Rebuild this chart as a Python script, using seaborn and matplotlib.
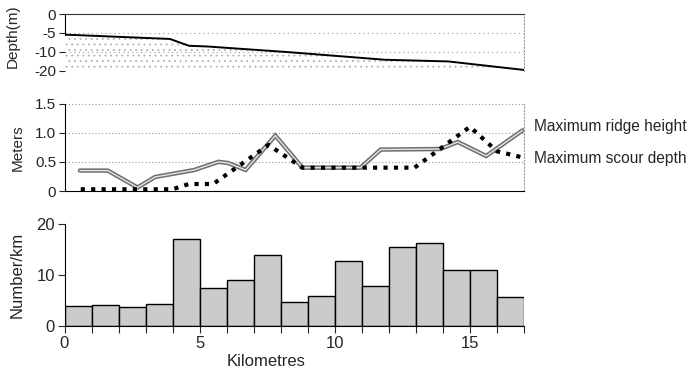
import numpy as np
import pandas as pd
import matplotlib
matplotlib.use("Agg")
import matplotlib.pyplot as plt
from matplotlib.ticker import FixedLocator, MultipleLocator
import seaborn as sns

# ---- data -------------------------------------------------------------
# seabed profile along the transect
depth_km = [0.0, 3.9, 4.6, 5.3, 8.3, 11.85, 14.2, 17.0]
depth_m = [-5.45, -6.6, -8.4, -8.6, -10.2, -14.2, -15.1, -19.6]

# maximum ridge height (m)
ridge_km = [0.57, 1.6, 2.7, 3.35, 4.8, 5.7, 6.05, 6.7, 7.8, 8.8, 10.95, 11.7, 13.9, 14.55, 15.6, 16.95]
ridge_m = [0.35, 0.35, 0.06, 0.24, 0.36, 0.50, 0.48, 0.36, 0.95, 0.40, 0.40, 0.71, 0.72, 0.84, 0.60, 1.04]

# maximum scour depth (m)
scour_km = [0.6, 4.0, 4.6, 5.5, 7.55, 8.8, 12.95, 15.0, 16.0, 17.0]
scour_m = [0.03, 0.03, 0.12, 0.12, 0.79, 0.40, 0.40, 1.10, 0.68, 0.57]

# number of features per kilometre bin
bin_km = np.arange(0.5, 17.0, 1.0)
per_km = [4.0, 4.1, 3.7, 4.4, 17.0, 7.5, 9.0, 14.0, 4.8, 5.8, 12.8, 7.9, 15.4, 16.3, 11.0, 11.0, 5.7]

depth_ticks = [0, -5, -10, -20]

# ---- style ------------------------------------------------------------
sns.set_style("white")
plt.rcParams["font.family"] = ["Liberation Sans", "DejaVu Sans"]
plt.rcParams["axes.unicode_minus"] = False
plt.rcParams["hatch.linewidth"] = 0.6

fig = plt.figure(figsize=(6.97, 3.74), dpi=100)
W, H = 697.0, 374.0
x0, x1 = 64.5, 524.0


def axes_px(top, bottom):
    return fig.add_axes([x0 / W, 1 - bottom / H, (x1 - x0) / W, (bottom - top) / H])


ax_d = axes_px(14.0, 70.7)
ax_m = axes_px(103.5, 191.0)
ax_n = axes_px(224.0, 326.0)

tick_fs = 11
label_fs = 11

# ---- depth panel --------------------------------------------------------
# depth axis: 0, -5, -10 and -20 m spaced evenly
_pos = np.array([-3.0, -2.0, -1.0, 0.0])
_dep = np.array([-20.0, -10.0, -5.0, 0.0])


def fwd(d):
    return np.interp(d, _dep, _pos)


def inv(p):
    return np.interp(p, _pos, _dep)


ax_d.set_yscale("function", functions=(fwd, inv))
prof = pd.DataFrame({"km": depth_km, "depth": depth_m})
ax_d.fill_between(prof["km"], prof["depth"], -20, facecolor="none",
                  edgecolor="#b0b0b0", linewidth=0, hatch="...")
sns.lineplot(data=prof, x="km", y="depth", color="black", linewidth=1.4,
             estimator=None, ax=ax_d)
ax_d.set_xlim(0, 17)
ax_d.set_ylim(-20, 0)
ax_d.yaxis.set_major_locator(FixedLocator(depth_ticks))
ax_d.set_yticklabels([str(t) for t in depth_ticks])
for t in (-5, -10):
    ax_d.axhline(t, color="#9a9a9a", linestyle=(0, (1, 3)), linewidth=0.8, zorder=0)
ax_d.set_xticks([])
ax_d.set_xlabel("")
ax_d.set_ylabel("Depth(m)", fontsize=label_fs)
ax_d.yaxis.set_label_coords(-0.097, 0.6)
ax_d.spines["bottom"].set_visible(False)
ax_d.spines["top"].set_color("#333333")
ax_d.spines["right"].set_linestyle((0, (1, 2)))
ax_d.spines["right"].set_color("#999999")
ax_d.spines["left"].set_color("black")
ax_d.spines["left"].set_bounds(depth_m[0], 0)
ax_d.tick_params(axis="y", direction="out", length=4, width=0.8, labelsize=tick_fs, pad=2, left=True)

# ---- ridge / scour panel ---------------------------------------------------
ridge = pd.DataFrame({"km": ridge_km, "m": ridge_m})
scour = pd.DataFrame({"km": scour_km, "m": scour_m})
for g in (0.5, 1.0, 1.5):
    ax_m.axhline(g, color="#9a9a9a", linestyle=(0, (1, 2)), linewidth=0.8, zorder=0)
sns.lineplot(data=ridge, x="km", y="m", color="#6f6f6f", linewidth=3.2,
             estimator=None, ax=ax_m, solid_joinstyle="miter")
sns.lineplot(data=ridge, x="km", y="m", color="#e4e4e4", linewidth=1.0,
             estimator=None, ax=ax_m)
sns.lineplot(data=scour, x="km", y="m", color="black", linewidth=3.0,
             linestyle=(0, (1, 1.5)), dash_capstyle="butt",
             estimator=None, ax=ax_m)
ax_m.set_xlim(0, 17)
ax_m.set_ylim(0, 1.5)
ax_m.set_yticks([0, 0.5, 1.0, 1.5])
ax_m.set_yticklabels(["0", "0.5", "1.0", "1.5"])
ax_m.set_xticks([])
ax_m.set_xlabel("")
ax_m.set_ylabel("Meters", fontsize=label_fs)
ax_m.yaxis.set_label_coords(-0.086, 0.5)
ax_m.spines["top"].set_visible(False)
ax_m.spines["right"].set_linestyle((0, (1, 2)))
ax_m.spines["right"].set_color("#999999")
ax_m.spines["left"].set_color("black")
ax_m.spines["bottom"].set_color("black")
ax_m.tick_params(axis="y", direction="out", length=4, width=0.8, labelsize=tick_fs, pad=2, left=True)

fig.text(534 / W, 1 - 126.5 / H, "Maximum ridge height", fontsize=11.2, va="center", ha="left")
fig.text(534 / W, 1 - 158 / H, "Maximum scour depth", fontsize=11.2, va="center", ha="left")

# ---- features per km panel ----------------------------------------------
bars = pd.DataFrame({"km": bin_km, "n": per_km})
sns.barplot(data=bars, x="km", y="n", native_scale=True, width=1.0,
            color="#cbcbcb", saturation=1, edgecolor="black", linewidth=1.0,
            ax=ax_n)
ax_n.set_xlim(0, 17)
ax_n.set_ylim(0, 20)
ax_n.yaxis.set_major_locator(FixedLocator([0, 10, 20]))
ax_n.xaxis.set_major_locator(FixedLocator([0, 5, 10, 15]))
ax_n.xaxis.set_minor_locator(MultipleLocator(1))
ax_n.set_xticklabels(["0", "5", "10", "15"])
ax_n.set_xlabel("Kilometres", fontsize=12)
ax_n.xaxis.set_label_coords(0.438, -0.27)
ax_n.set_ylabel("Number/km", fontsize=12)
ax_n.yaxis.set_label_coords(-0.086, 0.5)
ax_n.spines["top"].set_visible(False)
ax_n.spines["right"].set_visible(False)
ax_n.spines["left"].set_color("black")
ax_n.spines["bottom"].set_color("black")
ax_n.tick_params(axis="both", which="both", direction="out", length=5, width=0.8,
                 labelsize=12, pad=2, left=True, bottom=True)

fig.savefig("out.png", dpi=100)
